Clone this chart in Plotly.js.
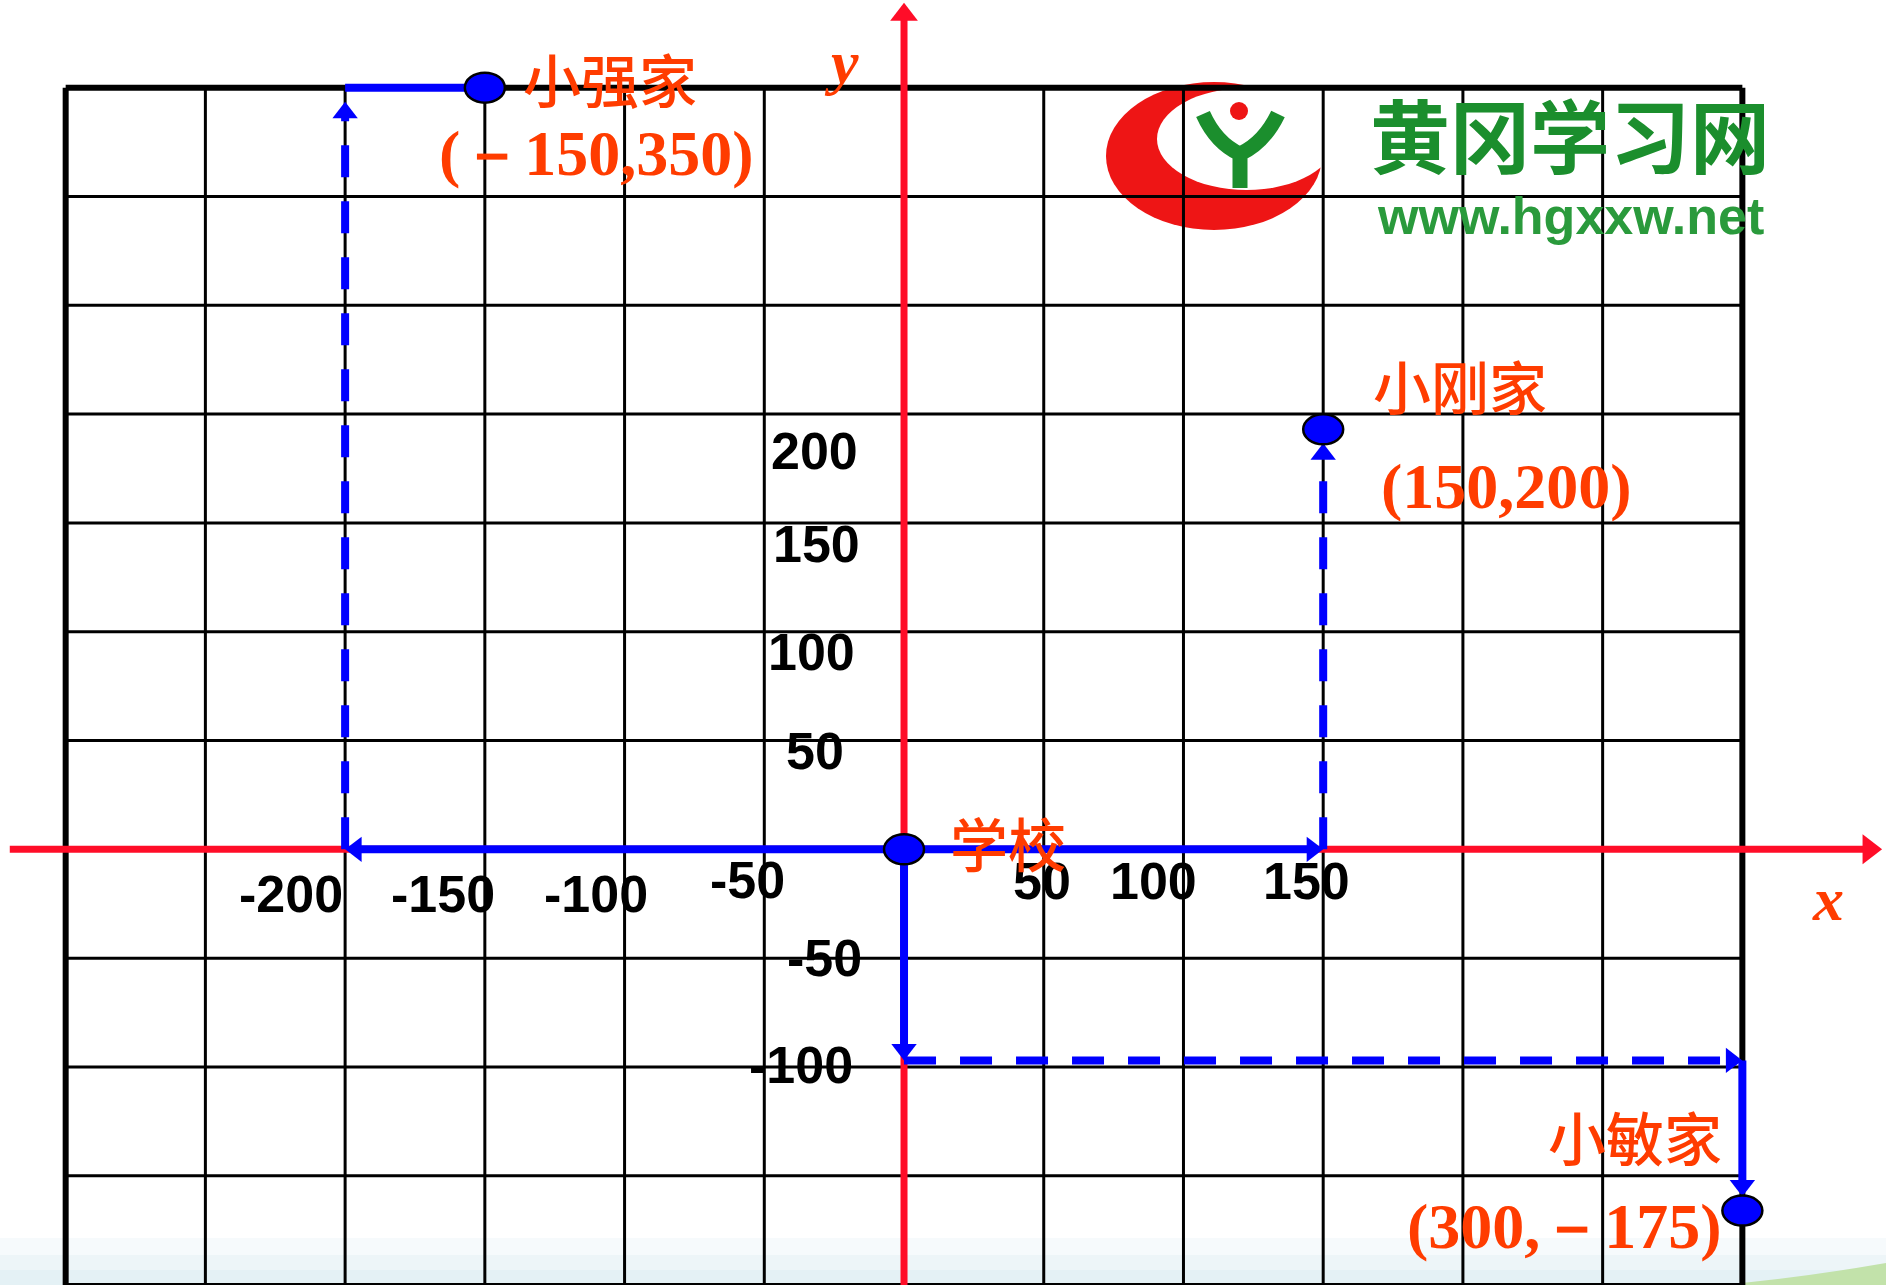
<!DOCTYPE html>
<html><head><meta charset="utf-8">
<script src="https://cdn.plot.ly/plotly-3.0.1.min.js"></script>
<style>html,body{margin:0;padding:0;background:#fff;} #chart{width:1886px;height:1285px;}</style>
</head><body><div id="chart"></div>
<script>
// ---------------- data ----------------
const gridXVals = [-300,-250,-200,-150,-100,-50,0,50,100,150,200,250,300];
const gridYVals = [-200,-150,-100,-50,0,50,100,150,200,250,300,350];
const xTickText = ['-200','-150','-100','-50','50','100','150'];
const yTickText = ['200','150','100','50','-50','-100'];
const placeNames = ['学校','小刚家','小强家','小敏家'];
const placeX = [0, 150, -150, 300];
const placeY = [0, 193, 350, -166];
const placeCoordText = ['', '(150,200)', '(－150,350)', '(300,－175)'];
const gangRouteX = [0, 150, 150];
const gangRouteY = [0, 0, 193];
const qiangRouteX = [0, -200, -200, -150];
const qiangRouteY = [0, 0, 350, 350];
const minRouteX = [0, 0, 300, 300];
const minRouteY = [0, -97, -97, -166];
const axisXExtent = [-320, 350];
const axisYExtent = [-202, 389];
const axisNames = ['x', 'y'];
const logoTitle = '黄冈学习网';
const logoUrl = 'www.hgxxw.net';

// ---------------- layout / style config ----------------
const W = 1886, H = 1285;
const xRange = [-323.5, 351.4];
const yRange = [-200.2, 390.3];
const pxX = W / (xRange[1] - xRange[0]);
const pxY = H / (yRange[1] - yRange[0]);
const RED = '#FF0D28', BLUE = '#0000FF', LABEL = '#FF3C00', GREEN = '#1B8E2D';

const routeStyle = {
  gang:  {dash: ['solid', 'dash'],          arrow: [true, true],        gap: [0, 14]},
  qiang: {dash: ['solid', 'dash', 'solid'], arrow: [true, true, false], gap: [0, 14, 0]},
  min:   {dash: ['solid', 'dash', 'solid'], arrow: [true, true, true],  gap: [0, 0, 14]}
};
const DASH = '32px,24px';

// label anchor positions (data coords)
const xTickPos = [[-219.5,-20.7],[-165.1,-20.7],[-110.2,-20.7],[-56.0,-14.1],[49.5,-14.6],[89.1,-14.6],[144.2,-14.6]];
const yTickPos = [[-31.9,183.1],[-31.4,140.1],[-33.1,90.9],[-31.9,45.0],[-28.4,-50.0],[-37.0,-99.2]];
const nameLabelPos = [[37.2,3.6],[198.9,213.5],[-105.2,354.4],[261.5,-131.8]];
const coordLabelPos = [null,[215.6,166.6],[-110.0,319.6],[236.5,-173.2]];
const axisNamePos = [[330.6,-22.9],[-22.2,362]];

// ---------------- helpers ----------------
const P = (x, y) => [x / W, 1 - y / H];

function segTraces(x0, y0, x1, y1, color, width, dash, arrow, gapPx, head) {
  const out = [];
  head = head || 22;
  const r = head / 2;
  const d = r + (gapPx || 0);
  let lx1 = x1, ly1 = y1;
  if (arrow) {
    const dxp = (x1 - x0) * pxX, dyp = (y1 - y0) * pxY;
    const L = Math.hypot(dxp, dyp);
    lx1 = x1 - (dxp / L) * d / pxX;
    ly1 = y1 - (dyp / L) * d / pxY;
  }
  out.push({type:'scatter', mode:'lines', x:[x0, lx1], y:[y0, ly1],
    line:{color:color, width:width, dash:dash}, hoverinfo:'skip', showlegend:false});
  if (arrow) {
    out.push({type:'scatter', mode:'markers', x:[x0, x1], y:[y0, y1],
      marker:{symbol:'triangle-up', size:[0, head], color:color, opacity:[0, 1],
        angleref:'previous', standoff:d, line:{width:0}},
      hoverinfo:'skip', showlegend:false});
  }
  return out;
}

// ---------------- shapes ----------------
const shapes = [];
// faint bottom gradient
[[1238,0.22],[1255,0.3],[1270,0.4]].forEach(([yy, op]) => {
  const a = P(0, yy), b = P(W, H);
  shapes.push({type:'rect', layer:'below', xref:'paper', yref:'paper', x0:a[0], x1:b[0], y0:b[1], y1:a[1],
    fillcolor:'rgba(215,234,240,' + op + ')', line:{width:0}});
});
// green swoosh bottom right
(function(){
  const p1 = P(1720, H), p2 = P(1800, 1278), p3 = P(W, 1263), p4 = P(W, H);
  shapes.push({type:'path', layer:'below', xref:'paper', yref:'paper',
    path:`M${p1[0]},${p1[1]} Q${p2[0]},${p2[1]} ${p3[0]},${p3[1]} L${p4[0]},${p4[1]} Z`,
    fillcolor:'#C2E2AA', line:{width:0}});
})();
// logo crescent
(function(){
  const o0 = P(1106, 230), o1 = P(1322, 82);
  shapes.push({type:'circle', layer:'below', xref:'paper', yref:'paper', x0:o0[0], x1:o1[0], y0:o0[1], y1:o1[1],
    fillcolor:'#EE1515', line:{width:0}});
  const i0 = P(1157, 190), i1 = P(1336, 88);
  shapes.push({type:'circle', layer:'below', xref:'paper', yref:'paper', x0:i0[0], x1:i1[0], y0:i0[1], y1:i1[1],
    fillcolor:'#FFFFFF', line:{width:0}});
  const a = P(1203,114), qa = P(1216,143), c = P(1240,154), b = P(1278,114), qb = P(1264,143), s = P(1240,188);
  shapes.push({type:'path', layer:'below', xref:'paper', yref:'paper',
    path:`M${a[0]},${a[1]} Q${qa[0]},${qa[1]} ${c[0]},${c[1]} Q${qb[0]},${qb[1]} ${b[0]},${b[1]} M${c[0]},${c[1]} L${s[0]},${s[1]}`,
    line:{color:GREEN, width:15}});
  const d0 = P(1230, 120), d1 = P(1248, 102);
  shapes.push({type:'circle', layer:'below', xref:'paper', yref:'paper', x0:d0[0], x1:d1[0], y0:d0[1], y1:d1[1],
    fillcolor:'#EE1515', line:{width:0}});
})();
// grid
const gx0 = gridXVals[0], gx1 = gridXVals[gridXVals.length - 1];
const gy0 = gridYVals[0], gy1 = gridYVals[gridYVals.length - 1];
gridXVals.forEach(v => {
  const edge = (v === gx0 || v === gx1);
  shapes.push({type:'line', layer:'below', xref:'x', yref:'y', x0:v, x1:v, y0:gy0 - 5, y1:gy1,
    line:{color:'#000', width: edge ? 6 : 3}});
});
gridYVals.forEach(v => {
  const top = (v === gy1);
  shapes.push({type:'line', layer:'below', xref:'x', yref:'y', x0:gx0, x1:gx1, y0:v, y1:v,
    line:{color:'#000', width: top ? 6 : 3}});
});
// place markers (ellipses)
placeX.forEach((px, i) => {
  shapes.push({type:'circle', layer:'above', xref:'x', yref:'y', xsizemode:'pixel', ysizemode:'pixel',
    xanchor:px, yanchor:placeY[i], x0:-20, x1:20, y0:-15, y1:15,
    fillcolor:BLUE, line:{color:'#000', width:2.5}});
});

// ---------------- traces ----------------
let traces = [];
traces = traces.concat(segTraces(axisXExtent[0], 0, axisXExtent[1], 0, RED, 7, 'solid', true, 0, 26));
traces = traces.concat(segTraces(0, axisYExtent[0], 0, axisYExtent[1], RED, 7, 'solid', true, 0, 24));
function addRoute(rx, ry, st) {
  for (let i = 0; i < rx.length - 1; i++) {
    traces = traces.concat(segTraces(rx[i], ry[i], rx[i+1], ry[i+1], BLUE, 8,
      st.dash[i] === 'dash' ? DASH : 'solid', st.arrow[i], st.gap[i], 22));
  }
}
addRoute(gangRouteX, gangRouteY, routeStyle.gang);
addRoute(qiangRouteX, qiangRouteY, routeStyle.qiang);
addRoute(minRouteX, minRouteY, routeStyle.min);

// ---------------- annotations ----------------
const ann = [];
const tickFont = {family:'Liberation Sans, Arial, sans-serif', size:52, color:'#000', weight:700};
xTickText.forEach((t, i) => ann.push({x:xTickPos[i][0], y:xTickPos[i][1], text:t, showarrow:false, xanchor:'center', yanchor:'middle', font:tickFont}));
yTickText.forEach((t, i) => ann.push({x:yTickPos[i][0], y:yTickPos[i][1], text:t, showarrow:false, xanchor:'center', yanchor:'middle', font:tickFont}));
const cjkFont = {family:'"Noto Sans CJK SC", sans-serif', size:58, color:LABEL, weight:500};
const coordFont = {family:'"Liberation Serif", "Times New Roman", serif', size:64, color:LABEL, weight:700};
placeNames.forEach((n, i) => {
  ann.push({x:nameLabelPos[i][0], y:nameLabelPos[i][1], text:n, showarrow:false, xanchor:'center', yanchor:'middle', font:cjkFont});
  if (placeCoordText[i]) ann.push({x:coordLabelPos[i][0], y:coordLabelPos[i][1], text:placeCoordText[i], showarrow:false, xanchor:'center', yanchor:'middle', font:coordFont});
});
axisNames.forEach((n, i) => ann.push({x:axisNamePos[i][0], y:axisNamePos[i][1], text:n, showarrow:false, xanchor:'center', yanchor:'middle',
  font:{family:'"Liberation Serif", serif', size:62, color:LABEL, weight:700, style:'italic'}}));
(function(){
  const t = P(1570, 132), u = P(1570, 216);
  ann.push({xref:'paper', yref:'paper', x:t[0], y:t[1], text:logoTitle, showarrow:false, xanchor:'center', yanchor:'middle',
    font:{family:'"Noto Sans CJK SC", sans-serif', size:80, color:GREEN, weight:700}});
  ann.push({xref:'paper', yref:'paper', x:u[0], y:u[1], text:logoUrl, showarrow:false, xanchor:'center', yanchor:'middle',
    font:{family:'Liberation Sans, Arial, sans-serif', size:52, color:'#2A9A3C', weight:700}});
})();

const layout = {
  width:W, height:H, margin:{l:0, r:0, t:0, b:0, pad:0},
  paper_bgcolor:'#FFFFFF', plot_bgcolor:'rgba(0,0,0,0)', showlegend:false,
  xaxis:{range:xRange, visible:false, fixedrange:true},
  yaxis:{range:yRange, visible:false, fixedrange:true},
  shapes:shapes, annotations:ann
};
Plotly.newPlot('chart', traces, layout, {staticPlot:true, displayModeBar:false});
</script>
</body></html>
